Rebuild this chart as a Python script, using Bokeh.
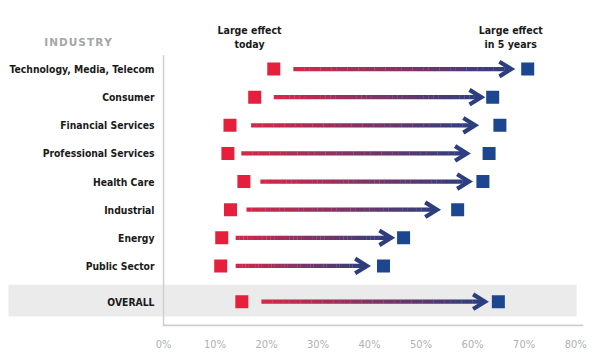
from bokeh.plotting import figure
from bokeh.models import Range1d, LinearAxis, FixedTicker, CustomJSTickFormatter
from bokeh.core.properties import value
from bokeh.embed import file_html
from bokeh.resources import INLINE

# ---- data ----
industries = ["Technology, Media, Telecom", "Consumer", "Financial Services",
              "Professional Services", "Health Care", "Industrial", "Energy",
              "Public Sector", "OVERALL"]
effect_today = [21.4, 17.7, 12.9, 12.5, 15.6, 13.0, 11.3, 11.1, 15.2]
effect_5yrs = [70.7, 63.9, 65.3, 63.2, 62.0, 57.1, 46.6, 42.7, 65.0]
arrow_from = [25.2, 21.4, 17.0, 15.1, 18.8, 16.1, 14.0, 14.0, 19.0]
arrow_to = [67.2, 61.4, 60.2, 58.6, 59.0, 52.8, 43.9, 39.2, 62.1]
tick_values = [0, 10, 20, 30, 40, 50, 60, 70, 80]

RED = "#e61f3c"
BLUE = "#1d4690"
ARROW_START = (214, 40, 72)
ARROW_END = (44, 62, 128)
FONT = "DejaVu Sans Condensed"

# row positions (overall row separated by an extra gap)
ys = [float(i) for i in range(len(industries) - 1)] + [len(industries) - 1 + 0.27]

p = figure(width=605, height=353, output_backend="svg", toolbar_location=None,
           x_range=Range1d(-31.65, 85.8), y_range=Range1d(9.152, -2.438),
           min_border_left=0, min_border_right=0, min_border_top=0, min_border_bottom=0,
           x_axis_location=None, y_axis_location=None)
p.outline_line_color = None
p.grid.visible = False
p.background_fill_color = "white"

# grey band behind OVERALL
p.quad(left=[-30.1], right=[80.2], bottom=[ys[-1] - 0.6], top=[ys[-1] + 0.53],
       fill_color="#ebebeb", line_color=None)

# axis lines
p.segment(x0=[0], y0=[-0.49], x1=[0], y1=[9.152], line_color="#cfcfcf", line_width=1.5)
p.segment(x0=[0], y0=[9.12], x1=[81.5], y1=[9.12], line_color="#cfcfcf", line_width=2)

# gradient arrow shafts
xs0, ys0, xs1, ys1, cols = [], [], [], [], []
n = 40
for a, b, y in zip(arrow_from, arrow_to, ys):
    for k in range(n):
        t0 = k / n
        t1 = (k + 1) / n
        tm = (k + 0.5) / n
        c = tuple(int(round(ARROW_START[j] + (ARROW_END[j] - ARROW_START[j]) * tm)) for j in range(3))
        xs0.append(a + (b - a) * t0)
        xs1.append(a + (b - a) * t1 + 0.05)
        ys0.append(y)
        ys1.append(y)
        cols.append("#%02x%02x%02x" % c)
p.segment(x0=xs0, y0=ys0, x1=xs1, y1=ys1, line_color=cols, line_width=4.2, line_cap="butt")

# chevron heads
hx, hy = [], []
for b, y in zip(arrow_to, ys):
    hx.append([b - 2.0, b + 0.3, b - 2.0])
    hy.append([y - 0.26, y, y + 0.26])
p.multi_line(xs=hx, ys=hy, line_color="#2c3e80", line_width=4.2, line_join="miter")

# markers
p.scatter(x=effect_today, y=ys, marker="square", size=13, fill_color=RED, line_color=None)
p.scatter(x=effect_5yrs, y=ys, marker="square", size=13, fill_color=BLUE, line_color=None)

# category labels
p.text(x=[-1.75] * len(industries), y=ys, text=industries, text_align="right",
       text_baseline="middle", text_font=value(FONT), text_font_style="bold",
       text_font_size="10.3px", text_color="#1a1a1a")

# headers
p.text(x=[-16.6], y=[-0.95], text=["\u200a".join("INDUSTRY")], text_align="center",
       text_baseline="middle", text_font=value("DejaVu Sans"), text_font_style="bold",
       text_font_size="10.5px", text_color="#a6a6a6")
p.text(x=[16.7, 16.7, 67.4, 67.4], y=[-1.38, -0.88, -1.38, -0.88],
       text=["Large effect", "today", "Large effect", "in 5 years"], text_align="center",
       text_baseline="middle", text_font=value(FONT), text_font_style="bold",
       text_font_size="10.5px", text_color="#1a1a1a")

# x axis (tick labels only)
ax = LinearAxis(ticker=FixedTicker(ticks=tick_values),
                formatter=CustomJSTickFormatter(code="return tick + '%';"))
ax.axis_line_color = None
ax.major_tick_line_color = None
ax.minor_tick_line_color = None
ax.major_label_text_font = FONT
ax.major_label_text_font_size = "11px"
ax.major_label_text_color = "#b0b0b0"
ax.major_label_standoff = 5
p.add_layout(ax, "below")

open("out.html", "w").write(file_html(p, INLINE))
